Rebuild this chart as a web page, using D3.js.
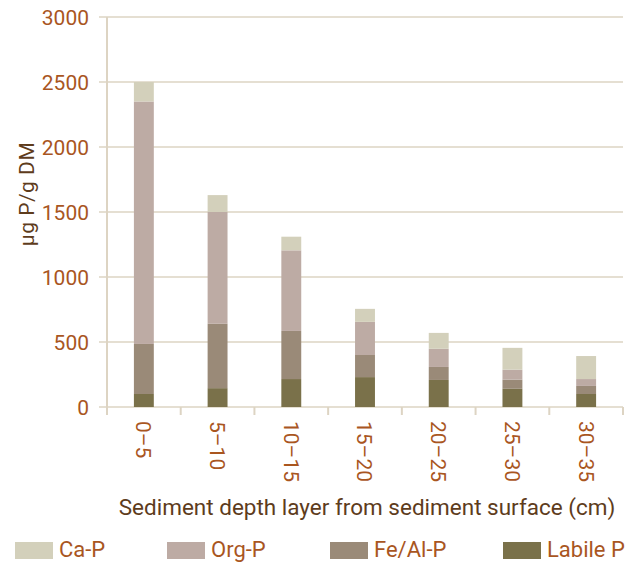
<!DOCTYPE html>
<html>
<head>
<meta charset="utf-8">
<script src="https://cdn.jsdelivr.net/npm/d3@7"></script>
<style>
  body { margin: 0; background: #fff; }
  text { font-family: Roboto, "Noto Sans", sans-serif; }
</style>
</head>
<body>
<script>
// Chart data
var layers = ["0–5", "5–10", "10–15", "15–20", "20–25", "25–30", "30–35"];
var labileP = [100, 145, 215, 230, 208, 140, 100];
var feAlP = [385, 495, 370, 170, 100, 70, 62];
var orgP = [1865, 860, 620, 255, 140, 77, 53];
var caP = [150, 130, 105, 100, 122, 168, 177];
var yTicks = [0, 500, 1000, 1500, 2000, 2500, 3000];

var seriesNames = ["Labile P", "Fe/Al-P", "Org-P", "Ca-P"];
var colors = {
  "Labile P": "#7a714a",
  "Fe/Al-P": "#9a8a78",
  "Org-P": "#bdaba4",
  "Ca-P": "#d3d0bb"
};

var svgWidth = 637;
var svgHeight = 562;

var chartMargin = { top: 17, right: 14, bottom: 155, left: 107 };
var chartWidth = svgWidth - chartMargin.left - chartMargin.right;
var chartHeight = svgHeight - chartMargin.top - chartMargin.bottom;

var tickColor = "#a9561f";
var titleColor = "#5e3c1c";
var gridColor = "#ddd4c3";

var svg = d3.select("body")
  .append("svg")
  .attr("width", svgWidth)
  .attr("height", svgHeight);

var chartGroup = svg.append("g")
  .attr("transform", `translate(${chartMargin.left}, ${chartMargin.top})`);

// build rows for the stack
var rows = layers.map(function(d, i) {
  return {
    layer: d,
    "Labile P": labileP[i],
    "Fe/Al-P": feAlP[i],
    "Org-P": orgP[i],
    "Ca-P": caP[i]
  };
});
var stacked = d3.stack().keys(seriesNames)(rows);

var xScale = d3.scaleBand()
  .domain(layers)
  .range([0, chartWidth])
  .paddingInner(0.73)
  .paddingOuter(0.365);

var yScale = d3.scaleLinear()
  .domain([0, 3000])
  .range([chartHeight, 0]);

// gridlines
chartGroup.selectAll(".grid")
  .data(yTicks)
  .enter()
  .append("line")
  .attr("x1", -8)
  .attr("x2", chartWidth)
  .attr("y1", d => yScale(d))
  .attr("y2", d => yScale(d))
  .attr("stroke", gridColor)
  .attr("stroke-width", 1.5);

// y axis line
chartGroup.append("line")
  .attr("x1", 0).attr("x2", 0)
  .attr("y1", 0).attr("y2", chartHeight + 8)
  .attr("stroke", gridColor)
  .attr("stroke-width", 2);

// x ticks at band boundaries
var step = xScale.step();
var bounds = d3.range(layers.length + 1).map(i => i * step);
chartGroup.selectAll(".xtick")
  .data(bounds.slice(1))
  .enter()
  .append("line")
  .attr("x1", d => d).attr("x2", d => d)
  .attr("y1", chartHeight).attr("y2", chartHeight + 8)
  .attr("stroke", gridColor)
  .attr("stroke-width", 2);

// bars
chartGroup.selectAll(".series")
  .data(stacked)
  .enter()
  .append("g")
  .attr("fill", d => colors[d.key])
  .selectAll("rect")
  .data(d => d)
  .enter()
  .append("rect")
  .attr("x", d => xScale(d.data.layer))
  .attr("y", d => yScale(d[1]))
  .attr("width", xScale.bandwidth())
  .attr("height", d => yScale(d[0]) - yScale(d[1]));

// y tick labels
chartGroup.selectAll(".ylabel")
  .data(yTicks)
  .enter()
  .append("text")
  .attr("x", -18)
  .attr("y", d => yScale(d))
  .attr("dy", "0.36em")
  .attr("text-anchor", "end")
  .attr("fill", tickColor)
  .style("font-size", "21px")
  .text(d => d);

// x tick labels (rotated)
chartGroup.selectAll(".xlabel")
  .data(layers)
  .enter()
  .append("text")
  .attr("transform", d => `translate(${xScale(d) + xScale.bandwidth() / 2}, ${chartHeight + 14}) rotate(90)`)
  .attr("dy", "0.36em")
  .attr("text-anchor", "start")
  .attr("fill", tickColor)
  .style("font-size", "21px")
  .text(d => d);

// axis titles
svg.append("text")
  .attr("transform", "translate(34, 194) rotate(-90)")
  .attr("text-anchor", "middle")
  .attr("fill", titleColor)
  .style("font-size", "21px")
  .style("letter-spacing", "0.5px")
  .text("μg P/g DM");

svg.append("text")
  .attr("x", 367)
  .attr("y", 515)
  .attr("text-anchor", "middle")
  .attr("fill", titleColor)
  .style("font-size", "22.5px")
  .text("Sediment depth layer from sediment surface (cm)");

// legend
var legendItems = ["Ca-P", "Org-P", "Fe/Al-P", "Labile P"];
var legendX = [15, 167, 330, 503];
var legend = svg.selectAll(".legend")
  .data(legendItems)
  .enter()
  .append("g")
  .attr("transform", (d, i) => `translate(${legendX[i]}, 542)`);

legend.append("rect")
  .attr("width", 38)
  .attr("height", 17)
  .attr("fill", d => colors[d]);

legend.append("text")
  .attr("x", 44)
  .attr("y", 15)
  .attr("fill", tickColor)
  .style("font-size", "22px")
  .text(d => d);
</script>
</body>
</html>
